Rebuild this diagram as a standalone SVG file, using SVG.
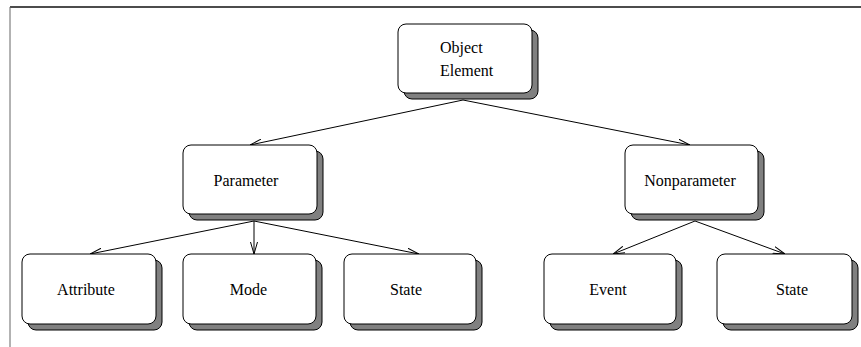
<svg xmlns="http://www.w3.org/2000/svg" width="861" height="347" viewBox="0 0 861 347">
<style>
.shadow{fill:#808080;stroke:#000;stroke-width:1}
.box{fill:#fff;stroke:#000;stroke-width:1}
.lbl{font-family:"Liberation Serif","Times New Roman",serif;font-size:16px;fill:#000;text-anchor:middle}
.edge{stroke:#000;stroke-width:1;fill:none;marker-end:url(#arr)}
</style>
<defs>
<marker id="arr" viewBox="0 0 12 8" refX="12" refY="4" markerWidth="12" markerHeight="8" markerUnits="userSpaceOnUse" orient="auto">
<path d="M0,0.5 L12,4 L0,7.5" fill="none" stroke="#000" stroke-width="1"/>
</marker>
</defs>
<rect width="861" height="347" fill="#fff"/>
<g id="frame">
<line x1="10" y1="7" x2="861" y2="7" stroke="#111" stroke-width="1.5"/>
<line x1="10" y1="7" x2="10" y2="347" stroke="#666" stroke-width="1"/>
</g>
<g id="connectors">
<line class="edge" x1="463" y1="100" x2="250" y2="145"/>
<line class="edge" x1="463" y1="100" x2="690" y2="145"/>
<line class="edge" x1="254" y1="221" x2="90" y2="254"/>
<line class="edge" x1="254" y1="221" x2="254" y2="254"/>
<line class="edge" x1="254" y1="221" x2="419" y2="254"/>
<line class="edge" x1="695" y1="221" x2="613" y2="254"/>
<line class="edge" x1="695" y1="221" x2="785" y2="254"/>
</g>
<g id="object-element">
<rect class="shadow" x="404" y="30" width="134" height="69" rx="8"/>
<rect class="box" x="398" y="24" width="134" height="69" rx="8"/>
<text class="lbl" x="440" y="53" style="text-anchor:start">Object</text>
<text class="lbl" x="440" y="76" style="text-anchor:start">Element</text>
</g>
<g id="parameter">
<rect class="shadow" x="189" y="151" width="134" height="69" rx="8"/>
<rect class="box" x="183" y="145" width="134" height="69" rx="8"/>
<text class="lbl" x="246" y="186">Parameter</text>
</g>
<g id="nonparameter">
<rect class="shadow" x="631" y="151" width="133" height="69" rx="8"/>
<rect class="box" x="625" y="145" width="133" height="69" rx="8"/>
<text class="lbl" x="690" y="186">Nonparameter</text>
</g>
<g id="attribute">
<rect class="shadow" x="28" y="260" width="134" height="70" rx="8"/>
<rect class="box" x="22" y="254" width="134" height="70" rx="8"/>
<text class="lbl" x="86" y="295">Attribute</text>
</g>
<g id="mode">
<rect class="shadow" x="189" y="260" width="133" height="70" rx="8"/>
<rect class="box" x="183" y="254" width="133" height="70" rx="8"/>
<text class="lbl" x="248.5" y="295">Mode</text>
</g>
<g id="state-param">
<rect class="shadow" x="350" y="260" width="132" height="70" rx="8"/>
<rect class="box" x="344" y="254" width="132" height="70" rx="8"/>
<text class="lbl" x="406" y="295">State</text>
</g>
<g id="event">
<rect class="shadow" x="550" y="260" width="132" height="70" rx="8"/>
<rect class="box" x="544" y="254" width="132" height="70" rx="8"/>
<text class="lbl" x="608" y="295">Event</text>
</g>
<g id="state-nonparam">
<rect class="shadow" x="723" y="260" width="135" height="70" rx="8"/>
<rect class="box" x="717" y="254" width="135" height="70" rx="8"/>
<text class="lbl" x="792" y="295">State</text>
</g>
</svg>
